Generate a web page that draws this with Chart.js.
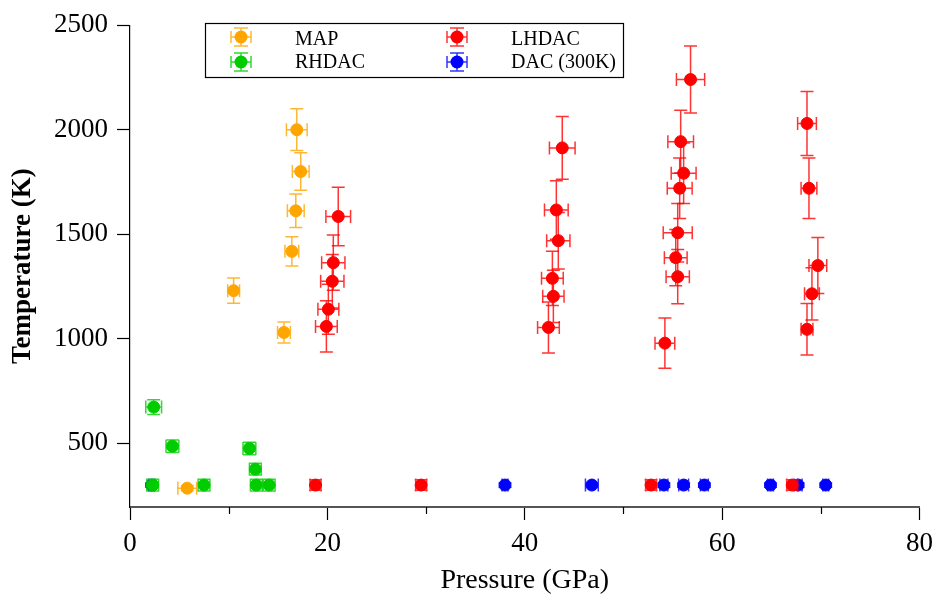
<!DOCTYPE html>
<html lang="en">
<head>
<meta charset="UTF-8">
<title>Temperature vs Pressure</title>
<script src="https://cdn.jsdelivr.net/npm/chart.js"></script>
<style>
    body { margin: 0; background: #fff; }
    .wrap { width: 941px; height: 600px; position: relative; }
</style>
</head>
<body>
<div class="wrap"><canvas id="ptChart"></canvas></div>
<script>
    // MAP (orange)
    const mapP    = [16.9, 17.3, 16.8, 16.4, 10.5, 15.6, 5.8];
    const mapT    = [2000, 1800, 1612, 1418, 1230, 1030, 285];
    const mapPErr = [1.05, 0.85, 0.85, 0.7, 0.6, 0.65, 0.95];
    const mapTErr = [100, 90, 80, 70, 60, 50, 12];

    // RHDAC (green)
    const rhP    = [2.4, 4.3, 12.1, 12.7, 2.3, 7.5, 12.8, 14.1];
    const rhT    = [673, 486, 475, 376, 300, 300, 300, 300];
    const rhPErr = [0.8, 0.65, 0.65, 0.6, 0.6, 0.6, 0.6, 0.6];
    const rhTErr = [35, 30, 30, 28, 28, 28, 28, 28];

    // LHDAC (red)
    const lhP = [21.1, 20.6, 20.5, 20.1, 19.9,
                 43.8, 43.2, 43.4, 42.8, 42.9, 42.4,
                 56.8, 55.8, 56.1, 55.7, 55.5, 55.3, 55.5, 54.2,
                 68.6, 68.8, 69.7, 69.1, 68.6,
                 18.8, 29.5, 52.8, 67.1];
    const lhT = [1585, 1364, 1275, 1141, 1059,
                 1913, 1616, 1469, 1289, 1203, 1054,
                 2240, 1943, 1792, 1720, 1507, 1388, 1297, 979,
                 2030, 1720, 1350, 1215, 1045,
                 300, 300, 300, 300];
    const lhPErr = [1.25, 1.18, 1.18, 1.06, 1.1,
                    1.3, 1.2, 1.18, 1.1, 1.08, 1.1,
                    1.43, 1.3, 1.26, 1.26, 1.47, 1.15, 1.18, 1.0,
                    0.95, 0.8, 0.9, 0.75, 0.6,
                    0.55, 0.55, 0.55, 0.55];
    const lhTErr = [140, 132, 128, 120, 123,
                    150, 140, 135, 130, 125, 122,
                    160, 150, 145, 145, 140, 135, 130, 120,
                    153, 145, 134, 125, 123,
                    25, 25, 25, 25];

    // DAC 300K (blue)
    const dacP    = [2.2, 38.0, 46.8, 54.1, 56.1, 58.2, 64.9, 67.7, 70.5];
    const dacT    = [300, 300, 300, 300, 300, 300, 300, 300, 300];
    const dacPErr = [0.3, 0.3, 0.65, 0.4, 0.5, 0.4, 0.3, 0.4, 0.3];
    const dacTErr = [10, 10, 10, 10, 10, 10, 10, 10, 10];

    const xTicks = [0, 20, 40, 60, 80];
    const yTicks = [500, 1000, 1500, 2000, 2500];

    const serif = '"Liberation Serif", "Times New Roman", serif';

    function makeSet(label, color, barColor, P, T, PErr, TErr, order) {
        return {
            label: label,
            data: P.map((p, i) => ({ x: p, y: T[i] })),
            errors: P.map((p, i) => ({ dx: PErr[i], dy: TErr[i] })),
            backgroundColor: color,
            borderColor: color,
            barColor: barColor,
            pointRadius: 6,
            pointBorderWidth: 1,
            order: order
        };
    }

    const datasets = [
        makeSet('MAP', '#ffa500', 'rgba(255,165,0,0.8)', mapP, mapT, mapPErr, mapTErr, 1),
        makeSet('RHDAC', '#00cc00', 'rgba(0,204,0,0.8)', rhP, rhT, rhPErr, rhTErr, 2),
        makeSet('LHDAC', '#ff0000', 'rgba(255,0,0,0.8)', lhP, lhT, lhPErr, lhTErr, 3),
        makeSet('DAC (300K)', '#0000ff', 'rgba(0,0,255,0.8)', dacP, dacT, dacPErr, dacTErr, 4)
    ];

    // error bars drawn just before each dataset's points
    const errorBars = {
        id: 'errorBars',
        beforeDatasetDraw(chart, args) {
            const ds = chart.data.datasets[args.index];
            const xs = chart.scales.x, ys = chart.scales.y;
            const ctx = chart.ctx;
            const cap = 6.5;
            ctx.save();
            ctx.strokeStyle = ds.barColor;
            ctx.lineWidth = 1.5;
            ds.data.forEach((d, i) => {
                const e = ds.errors[i];
                const cx = xs.getPixelForValue(d.x), cy = ys.getPixelForValue(d.y);
                const x0 = xs.getPixelForValue(d.x - e.dx), x1 = xs.getPixelForValue(d.x + e.dx);
                const y0 = ys.getPixelForValue(d.y - e.dy), y1 = ys.getPixelForValue(d.y + e.dy);
                ctx.beginPath();
                ctx.moveTo(x0, cy); ctx.lineTo(x1, cy);
                ctx.moveTo(x0, cy - cap); ctx.lineTo(x0, cy + cap);
                ctx.moveTo(x1, cy - cap); ctx.lineTo(x1, cy + cap);
                ctx.moveTo(cx, y0); ctx.lineTo(cx, y1);
                ctx.moveTo(cx - cap, y0); ctx.lineTo(cx + cap, y0);
                ctx.moveTo(cx - cap, y1); ctx.lineTo(cx + cap, y1);
                ctx.stroke();
            });
            ctx.restore();
        }
    };

    // short minor ticks on the x axis + boxed legend
    const extras = {
        id: 'extras',
        afterDraw(chart) {
            const ctx = chart.ctx;
            const xs = chart.scales.x;
            ctx.save();
            ctx.strokeStyle = '#000';
            ctx.lineWidth = 1.2;
            xs.ticks.forEach(t => {
                if (t.value % 20 !== 0) {
                    const px = Math.round(xs.getPixelForValue(t.value)) + 0.5;
                    ctx.beginPath();
                    ctx.moveTo(px, xs.top);
                    ctx.lineTo(px, xs.top + 7);
                    ctx.stroke();
                }
            });

            // legend
            ctx.lineWidth = 1.2;
            ctx.strokeStyle = '#000';
            ctx.strokeRect(205.5, 23.5, 418, 54);
            const slots = [
                { i: 0, mx: 241, tx: 295, my: 37, ty: 39.5 },
                { i: 2, mx: 457, tx: 511, my: 37, ty: 39.5 },
                { i: 1, mx: 241, tx: 295, my: 62, ty: 62.5 },
                { i: 3, mx: 457, tx: 511, my: 62, ty: 62.5 }
            ];
            ctx.font = '20px ' + serif;
            ctx.textBaseline = 'middle';
            ctx.textAlign = 'left';
            slots.forEach(s => {
                const ds = chart.data.datasets[s.i];
                ctx.strokeStyle = ds.barColor;
                ctx.lineWidth = 1.5;
                ctx.beginPath();
                ctx.moveTo(s.mx - 10, s.my); ctx.lineTo(s.mx + 10, s.my);
                ctx.moveTo(s.mx - 10, s.my - 6); ctx.lineTo(s.mx - 10, s.my + 6);
                ctx.moveTo(s.mx + 10, s.my - 6); ctx.lineTo(s.mx + 10, s.my + 6);
                ctx.moveTo(s.mx, s.my - 9); ctx.lineTo(s.mx, s.my + 9);
                ctx.moveTo(s.mx - 7, s.my - 9); ctx.lineTo(s.mx + 7, s.my - 9);
                ctx.moveTo(s.mx - 7, s.my + 9); ctx.lineTo(s.mx + 7, s.my + 9);
                ctx.stroke();
                ctx.fillStyle = ds.backgroundColor;
                ctx.beginPath();
                ctx.arc(s.mx, s.my, 6.5, 0, Math.PI * 2);
                ctx.fill();
                ctx.fillStyle = '#000';
                ctx.fillText(ds.label, s.tx, s.ty);
            });
            ctx.restore();
        }
    };

    new Chart(document.getElementById('ptChart'), {
        type: 'scatter',
        data: { datasets: datasets },
        plugins: [errorBars, extras],
        options: {
            responsive: true,
            maintainAspectRatio: false,
            animation: false,
            layout: { padding: { top: 24, right: 17, left: 0, bottom: 0 } },
            plugins: {
                legend: { display: false },
                tooltip: { enabled: false }
            },
            scales: {
                x: {
                    type: 'linear',
                    min: 0,
                    max: 80,
                    afterFit: s => { s.height = 93; },
                    ticks: {
                        stepSize: 10,
                        padding: 8,
                        color: '#000',
                        font: { family: serif, size: 27 },
                        callback: v => xTicks.includes(v) ? String(v) : ''
                    },
                    grid: {
                        drawOnChartArea: false,
                        tickLength: 13,
                        tickWidth: 1.2,
                        tickColor: c => (c.tick && c.tick.value % 20 === 0) ? '#000' : 'rgba(0,0,0,0)'
                    },
                    border: { color: '#555', width: 2 },
                    title: {
                        display: true,
                        text: 'Pressure (GPa)',
                        color: '#000',
                        font: { family: serif, size: 28 },
                        padding: { top: 0, bottom: 3 }
                    }
                },
                y: {
                    type: 'linear',
                    min: 195,
                    max: 2500,
                    afterFit: s => { s.width = 130; },
                    afterBuildTicks: s => { s.ticks = yTicks.map(v => ({ value: v })); },
                    ticks: {
                        padding: 9,
                        color: '#000',
                        font: { family: serif, size: 27 },
                        callback: v => String(v)
                    },
                    grid: {
                        drawOnChartArea: false,
                        tickLength: 13,
                        tickWidth: 1.2,
                        tickColor: '#000'
                    },
                    border: { color: '#000', width: 1.2 },
                    title: {
                        display: true,
                        text: 'Temperature (K)',
                        color: '#000',
                        font: { family: serif, size: 27, weight: 'bold' },
                        padding: { top: 7, bottom: 0 }
                    }
                }
            }
        }
    });
</script>
</body>
</html>
